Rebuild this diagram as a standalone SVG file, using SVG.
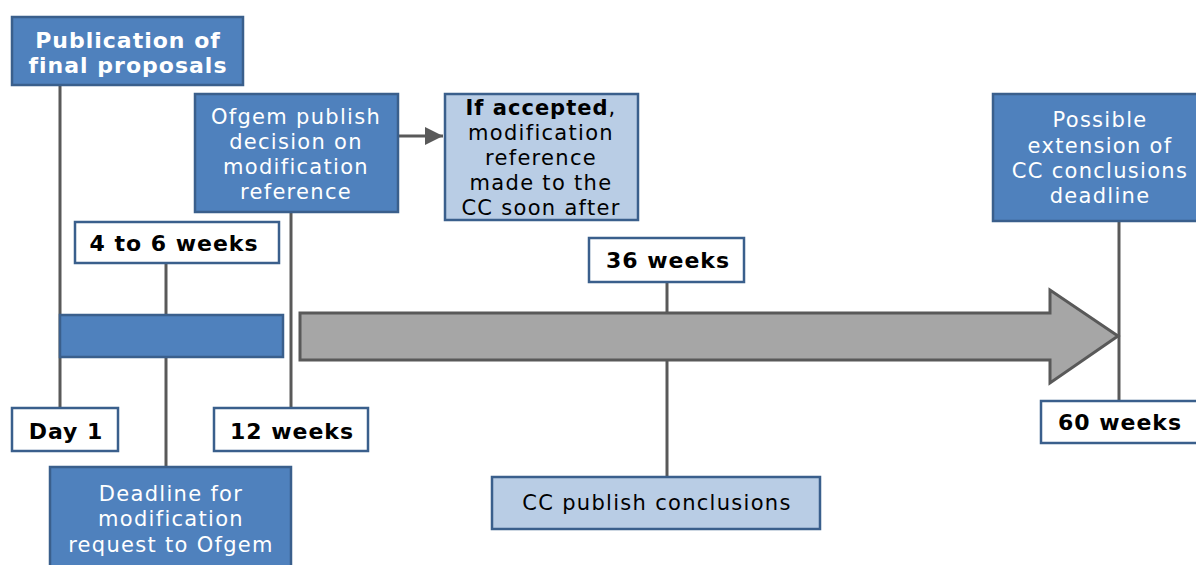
<svg xmlns="http://www.w3.org/2000/svg" width="1196" height="565" viewBox="0 0 1196 565">
<style>
.dark{fill:#4F81BD;stroke:#3A5F8C;stroke-width:2.5}
.light{fill:#B9CDE5;stroke:#3A5F8C;stroke-width:2.5}
.white{fill:#FFFFFF;stroke:#3A5F8C;stroke-width:2.5}
.ln{stroke:#595959;stroke-width:3;fill:none}
text{font-family:"DejaVu Sans",Verdana,sans-serif;font-size:21px;letter-spacing:1.3px;text-anchor:middle}
.tw{fill:#FFFFFF}
.tb{fill:#000000}
.bold{font-weight:bold;font-size:22px;letter-spacing:1px}
</style>
<defs>
<marker id="ah" viewBox="0 0 10 10" refX="10" refY="5" markerWidth="6" markerHeight="6" markerUnits="strokeWidth" orient="auto">
<path d="M0,0 L10,5 L0,10 z" fill="#595959"/>
</marker>
</defs>
<g id="connectors">
<line class="ln" x1="60" y1="85" x2="60" y2="408"/>
<line class="ln" x1="166" y1="263" x2="166" y2="467"/>
<line class="ln" x1="291" y1="212" x2="291" y2="408"/>
<line class="ln" x1="667" y1="282" x2="667" y2="477"/>
<line class="ln" x1="1119" y1="221" x2="1119" y2="401"/>
<line class="ln" x1="398" y1="136" x2="443" y2="136" marker-end="url(#ah)"/>
</g>
<g id="bar">
<rect class="dark" x="60" y="315" width="223" height="42"/>
</g>
<g id="bigarrow">
<path d="M300,313 L1050,313 L1050,290 L1118,336 L1050,383 L1050,360 L300,360 Z" fill="#A6A6A6" stroke="#595959" stroke-width="3"/>
</g>
<g id="publication">
<rect class="dark" x="12" y="17" width="231" height="68"/>
<text class="tw bold" x="128" y="48">Publication of</text>
<text class="tw bold" x="128" y="73">final proposals</text>
</g>
<g id="ofgem">
<rect class="dark" x="195" y="94" width="203" height="118"/>
<text class="tw" x="296" y="124">Ofgem publish</text>
<text class="tw" x="296" y="149">decision on</text>
<text class="tw" x="296" y="174">modification</text>
<text class="tw" x="296" y="199">reference</text>
</g>
<g id="accepted">
<rect class="light" x="445" y="94" width="193" height="126"/>
<text class="tb" x="541" y="115"><tspan class="bold" style="font-size:21px">If accepted</tspan>,</text>
<text class="tb" x="541" y="140">modification</text>
<text class="tb" x="541" y="165">reference</text>
<text class="tb" x="541" y="190">made to the</text>
<text class="tb" x="541" y="215">CC soon after</text>
</g>
<g id="extension">
<rect class="dark" x="993" y="94" width="205" height="127"/>
<text class="tw" x="1100" y="127">Possible</text>
<text class="tw" x="1100" y="153">extension of</text>
<text class="tw" x="1100" y="178">CC conclusions</text>
<text class="tw" x="1100" y="203">deadline</text>
</g>
<g id="w4to6">
<rect class="white" x="75" y="222" width="204" height="41"/>
<text class="tb bold" x="174" y="251">4 to 6 weeks</text>
</g>
<g id="w36">
<rect class="white" x="589" y="238" width="155" height="44"/>
<text class="tb bold" x="668" y="268">36 weeks</text>
</g>
<g id="day1">
<rect class="white" x="12" y="408" width="106" height="43"/>
<text class="tb bold" x="66" y="439">Day 1</text>
</g>
<g id="w12">
<rect class="white" x="214" y="408" width="154" height="43"/>
<text class="tb bold" x="292" y="439">12 weeks</text>
</g>
<g id="w60">
<rect class="white" x="1041" y="401" width="157" height="42"/>
<text class="tb bold" x="1120" y="430">60 weeks</text>
</g>
<g id="deadline">
<rect class="dark" x="50" y="467" width="241" height="100"/>
<text class="tw" x="171" y="501">Deadline for</text>
<text class="tw" x="171" y="526">modification</text>
<text class="tw" x="171" y="552">request to Ofgem</text>
</g>
<g id="ccpublish">
<rect class="light" x="492" y="477" width="328" height="52"/>
<text class="tb" x="657" y="510">CC publish conclusions</text>
</g>
</svg>
